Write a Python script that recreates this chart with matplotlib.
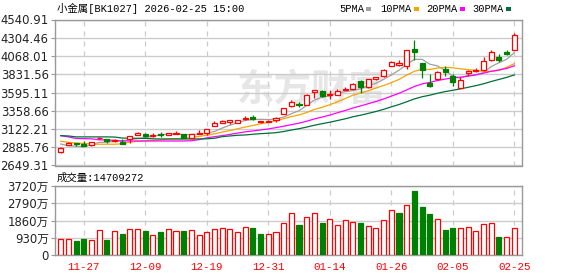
import matplotlib
matplotlib.use('Agg')
import matplotlib.pyplot as plt
from matplotlib.patches import Rectangle

plt.rcParams['font.family'] = ['DejaVu Sans', 'Noto Sans CJK SC']

title = '小金属[BK1027] 2026-02-25 15:00'
vol_title = '成交量:14709272'
watermark = '东方财富'

opens = [2825, 2919, 2942, 2932, 2915, 3005, 2990, 2968, 2958, 2990,
         3049, 3062, 3034, 3062, 3045, 3058, 3058, 3007, 3062, 3067,
         3162, 3205, 3218, 3205, 3253, 3282, 3210, 3218, 3240, 3314,
         3426, 3440, 3431, 3600, 3620, 3560, 3565, 3630, 3645, 3740,
         3665, 3770, 3812, 3942, 3950, 3937, 4160, 3972, 3720, 3765,
         3895, 3803, 3652, 3847, 3880, 3885, 4010, 4058, 4120, 4140]
highs = [2889, 2958, 2946, 2963, 2956, 3013, 2993, 2990, 2990, 3035,
         3088, 3065, 3068, 3080, 3075, 3101, 3060, 3060, 3110, 3125,
         3223, 3240, 3242, 3242, 3285, 3305, 3232, 3235, 3275, 3395,
         3500, 3470, 3570, 3632, 3625, 3630, 3635, 3670, 3720, 3760,
         3775, 3792, 3895, 4005, 4020, 4150, 4270, 3975, 3830, 3870,
         3938, 3830, 3790, 3890, 3910, 4055, 4150, 4090, 4140, 4370]
lows = [2808, 2919, 2903, 2904, 2902, 2995, 2945, 2955, 2930, 2937,
        3045, 3020, 3020, 3016, 3040, 3058, 3000, 3000, 3060, 3050,
        3160, 3195, 3185, 3200, 3235, 3235, 3195, 3212, 3218, 3314,
        3410, 3410, 3430, 3530, 3540, 3517, 3560, 3630, 3640, 3595,
        3655, 3755, 3790, 3935, 3940, 3906, 4015, 3785, 3670, 3755,
        3808, 3680, 3650, 3815, 3865, 3880, 4005, 3995, 4075, 4140]
closes = [2880, 2945, 2922, 2906, 2954, 3012, 2963, 2980, 2932, 3032,
          3075, 3036, 3050, 3049, 3072, 3075, 3003, 3055, 3075, 3120,
          3197, 3221, 3240, 3240, 3269, 3257, 3230, 3231, 3270, 3392,
          3478, 3430, 3565, 3630, 3556, 3580, 3620, 3640, 3705, 3672,
          3770, 3790, 3890, 3993, 3975, 4145, 4118, 3893, 3680, 3865,
          3860, 3735, 3762, 3877, 3893, 4002, 4120, 4015, 4088, 4340]
# volume in 万
volumes = [845, 845, 755, 845, 790, 1330, 810, 1275, 1130, 1385,
           1385, 1295, 1060, 1240, 1385, 1275, 1295, 1330, 1060, 1220,
           1385, 1440, 1385, 1220, 1490, 1440, 1130, 1130, 1220, 1705,
           2245, 1615, 2030, 2245, 1725, 1925, 1600, 1870, 1760, 1725,
           1545, 1440, 1870, 2410, 2265, 2680, 3450, 2590, 2210, 1925,
           1350, 1455, 1440, 1490, 1275, 1655, 1705, 970, 950, 1471]

ma5 = [2928, 2905, 2900, 2890, 2921, 2948, 2951, 2963, 2968, 2984,
       2996, 3011, 3025, 3048, 3056, 3056, 3050, 3051, 3056, 3066,
       3090, 3134, 3171, 3204, 3233, 3245, 3247, 3245, 3251, 3276,
       3320, 3360, 3427, 3499, 3532, 3552, 3590, 3605, 3620, 3643,
       3681, 3715, 3765, 3823, 3884, 3959, 4024, 4025, 3962, 3940,
       3883, 3807, 3780, 3820, 3825, 3854, 3931, 3981, 4024, 4113]
ma10 = [2963, 2950, 2940, 2935, 2928, 2925, 2925, 2925, 2930, 2953,
        2962, 2968, 2974, 2982, 2992, 2996, 3000, 3012, 3025, 3042,
        3060, 3082, 3102, 3125, 3148, 3168, 3190, 3208, 3228, 3255,
        3283, 3304, 3336, 3375, 3404, 3436, 3475, 3516, 3560, 3588,
        3617, 3653, 3685, 3722, 3764, 3820, 3870, 3895, 3893, 3912,
        3920, 3915, 3902, 3891, 3882, 3869, 3869, 3881, 3922, 3969]
ma20 = [3036, 3020, 3000, 2997, 2995, 2982, 2980, 2975, 2968, 2967,
        2967, 2967, 2967, 2967, 2967, 2967, 2967, 2970, 2985, 3007,
        3023, 3036, 3052, 3069, 3085, 3097, 3110, 3123, 3140, 3158,
        3178, 3198, 3223, 3253, 3277, 3302, 3333, 3362, 3394, 3421,
        3450, 3478, 3511, 3548, 3584, 3628, 3673, 3706, 3726, 3750,
        3769, 3784, 3794, 3807, 3823, 3845, 3870, 3888, 3907, 3941]
ma30 = [3036, 3032, 3020, 3020, 3020, 3020, 3020, 3018, 3005, 3002,
        3002, 3000, 2995, 2993, 2993, 2993, 2993, 2993, 2993, 2995,
        3002, 3023, 3032, 3041, 3045, 3054, 3062, 3067, 3075, 3089,
        3109, 3126, 3147, 3171, 3191, 3210, 3232, 3254, 3280, 3301,
        3324, 3349, 3377, 3409, 3439, 3475, 3512, 3540, 3560, 3585,
        3607, 3624, 3642, 3663, 3684, 3708, 3738, 3764, 3791, 3823]

date_pos = [3, 11, 19, 27, 35, 43, 51, 59]
date_labels = ['11-27', '12-09', '12-19', '12-31', '01-14', '01-26', '02-05', '02-25']
price_ticks = [2649.31, 2885.76, 3122.21, 3358.66, 3595.11, 3831.56, 4068.01, 4304.46, 4540.91]
vol_ticks = [0, 930, 1860, 2790, 3720]

ma_names = ['5PMA', '10PMA', '20PMA', '30PMA']
ma_colors = ['#a0a0a0', '#f5a400', '#ff00ff', '#00703a']

RED = '#ff0000'
GREEN = '#008000'
W, H = 578, 276

fig = plt.figure(figsize=(W / 100, H / 100), dpi=100)
ax = fig.add_axes([55 / W, 1 - 165.5 / H, 467 / W, 146 / H])
axv = fig.add_axes([55 / W, 1 - 255 / H, 467 / W, 69 / H])

n = len(closes)
xs = list(range(n))
bw = 0.66

# watermark
ax.text(0.55, 0.52, watermark, transform=ax.transAxes, fontsize=27, fontweight='bold',
        color='#e6e6e6', ha='center', va='center', zorder=0,
        family=['Noto Sans CJK SC'])

for i in xs:
    o, h, l, c = opens[i], highs[i], lows[i], closes[i]
    up = c >= o
    col = RED if up else GREEN
    ax.vlines(i, l, h, color=col, lw=0.9, zorder=3)
    bot = min(o, c)
    ht = max(abs(c - o), 1.0)
    ax.add_patch(Rectangle((i - bw / 2, bot), bw, ht, facecolor='white' if up else GREEN,
                           edgecolor=col, lw=0.9, zorder=4))

for vals, col in zip([ma5, ma10, ma20, ma30], ma_colors):
    ax.plot(xs, vals, color=col, lw=0.9, zorder=2.5)

ax.set_xlim(-0.74, 60.0)
ax.set_ylim(price_ticks[0], price_ticks[-1])
ax.set_yticks(price_ticks)
ax.set_yticklabels(['%.2f' % v for v in price_ticks])
ax.set_xticks(date_pos)
ax.set_xticklabels([])
ax.grid(axis='y', color='#cccccc', lw=1, zorder=1)
ax.grid(axis='x', color='#cccccc', lw=0.9, ls=(0, (4, 4)), zorder=1)

# volume
for i in xs:
    up = i == 0 or closes[i] >= closes[i - 1]
    if up:
        axv.bar(i, volumes[i], width=bw, facecolor='white', edgecolor=RED, lw=0.9, zorder=3)
    else:
        axv.bar(i, volumes[i], width=bw, facecolor=GREEN, edgecolor=GREEN, lw=0.9, zorder=3)

axv.set_xlim(-0.74, 60.0)
axv.set_ylim(0, 3720)
axv.set_yticks(vol_ticks)
axv.set_yticklabels(['0'] + ['%d万' % v for v in vol_ticks[1:]])
axv.set_xticks(date_pos)
axv.set_xticklabels(date_labels, color=RED, fontsize=7.8,
                    family=['Liberation Mono', 'DejaVu Sans'])
axv.grid(axis='y', color='#cccccc', lw=1, zorder=1)
axv.grid(axis='x', color='#cccccc', lw=0.9, ls=(0, (4, 4)), zorder=1)

for a in (ax, axv):
    for s in a.spines.values():
        s.set_color('#999999')
        s.set_linewidth(1.0)
    a.tick_params(axis='y', length=3, color='#999999', labelsize=8.4, labelcolor='#222222', pad=1.5)
    a.tick_params(axis='x', length=0, pad=5)
    a.set_axisbelow(True)

# header texts
fig.text(57 / W, 1 - 9 / H, title, fontsize=7.5, color='black', va='center', ha='left',
         family=['Liberation Mono', 'Noto Sans CJK SC'])
fig.text(57 / W, 1 - 178 / H, vol_title, fontsize=7.5, color='black', va='center', ha='left',
         family=['Liberation Mono', 'Noto Sans CJK SC'])

leg_x = [339, 380, 426, 472]
for name, col, lx in zip(ma_names, ma_colors, leg_x):
    fig.text(lx / W, 1 - 9 / H, name, fontsize=7.5, color='black', va='center', ha='left',
             family=['Liberation Mono'])
    sq_x = lx + 6.1 * len(name) + 3
    fig.patches.append(Rectangle((sq_x / W, 1 - 10.5 / H), 5 / W, 4 / H, facecolor=col,
                                 edgecolor='none', transform=fig.transFigure, figure=fig))

fig.savefig('out.png', dpi=100)
